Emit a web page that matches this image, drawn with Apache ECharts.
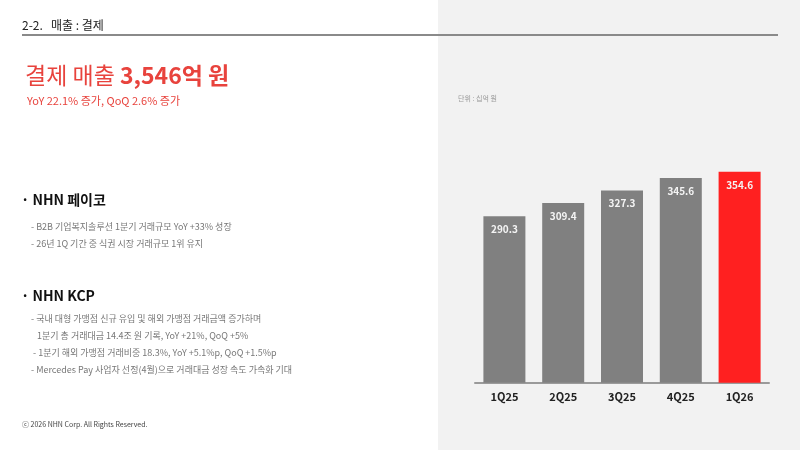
<!DOCTYPE html>
<html>
<head>
<meta charset="utf-8">
<script src="https://cdn.jsdelivr.net/npm/echarts@6/dist/echarts.min.js"></script>
<style>
html,body{margin:0;padding:0;background:#fff;}
#c{width:800px;height:450px;}
</style>
</head>
<body>
<div id="c"></div>
<script>
var categories = ['1Q25', '2Q25', '3Q25', '4Q25', '1Q26'];
var values = [290.3, 309.4, 327.3, 345.6, 354.6];
var highlightIndex = 4;

var headerText = '2-2.   매출 : 결제';
var titleNormal = '결제 매출 ';
var titleBold = '3,546억 원';
var subtitle = 'YoY 22.1% 증가, QoQ 2.6% 증가';
var unitText = '단위 : 십억 원';
var section1 = '· NHN 페이코';
var section1Items = ['- B2B 기업복지솔루션 1분기 거래규모 YoY +33% 성장', '- 26년 1Q 기간 중 식권 시장 거래규모 1위 유지'];
var section2 = '· NHN KCP';
var section2Items = ['- 국내 대형 가맹점 신규 유입 및 해외 가맹점 거래금액 증가하며', '   1분기 총 거래대금 14.4조 원 기록, YoY +21%, QoQ +5%', ' - 1분기 해외 가맹점 거래비중 18.3%, YoY +5.1%p, QoQ +1.5%p', '- Mercedes Pay 사업자 선정(4월)으로 거래대금 성장 속도 가속화 기대'];
var footer = 'ⓒ 2026 NHN Corp. All Rights Reserved.';

var FONT = '"Noto Sans CJK KR", "Noto Sans", sans-serif';
var RED = '#e8433d';

var chart = echarts.init(document.getElementById('c'), null, {renderer: 'canvas'});

var graphics = [
  {type: 'rect', left: 438, top: 0, shape: {width: 362, height: 450}, style: {fill: '#f2f2f2'}, z: -10},
  {type: 'text', left: 22, top: 19, style: {text: headerText, font: '12px ' + FONT, fill: '#222'}},
  {type: 'rect', left: 22, top: 34, shape: {width: 756, height: 2}, style: {fill: '#8a8a8a'}},
  {type: 'text', left: 25, top: 64, style: {
    text: '{n|' + titleNormal + '}{b|' + titleBold + '}',
    rich: {
      n: {font: '23px ' + FONT, fill: RED},
      b: {font: 'bold 23px ' + FONT, fill: RED}
    }
  }},
  {type: 'text', left: 27, top: 95, style: {text: subtitle, font: '11px ' + FONT, fill: RED}},
  {type: 'text', left: 458, top: 95, style: {text: unitText, font: '7px ' + FONT, fill: '#999'}},
  {type: 'text', left: 21, top: 193, style: {text: section1, font: 'bold 14px ' + FONT, fill: '#111'}},
  {type: 'text', left: 21, top: 289, style: {text: section2, font: 'bold 14px ' + FONT, fill: '#111'}},
  {type: 'text', left: 22, top: 421, style: {text: footer, font: '7px ' + FONT, fill: '#444'}}
];
section1Items.forEach(function (t, i) {
  graphics.push({type: 'text', left: 31, top: 222 + i * 17, style: {text: t, font: '9px ' + FONT, fill: '#777'}});
});
section2Items.forEach(function (t, i) {
  graphics.push({type: 'text', left: 31, top: 314.5 + i * 17, style: {text: t, font: '9px ' + FONT, fill: '#777'}});
});

chart.setOption({
  backgroundColor: 'transparent',
  animation: false,
  grid: {left: 475, width: 294, top: 71, height: 311.7, containLabel: false},
  xAxis: {
    type: 'category',
    data: categories,
    axisLine: {show: true, lineStyle: {color: '#9a9a9a', width: 2}},
    axisTick: {show: false},
    axisLabel: {color: '#222', fontWeight: 'bold', fontSize: 11, fontFamily: FONT, margin: 9}
  },
  yAxis: {
    type: 'value', min: 50, max: 500, show: false,
    splitLine: {show: false}
  },
  series: [{
    type: 'bar',
    data: values.map(function (v, i) {
      return {value: v, itemStyle: {color: i === highlightIndex ? '#ff2020' : '#808080'}};
    }),
    barWidth: 42,
    label: {
      show: true, position: 'insideTop', distance: 8,
      color: '#f4f4f4', fontSize: 10, fontWeight: 'bold', fontFamily: FONT,
      formatter: function (p) { return p.value.toFixed(1); }
    }
  }],
  graphic: graphics
});
</script>
</body>
</html>
